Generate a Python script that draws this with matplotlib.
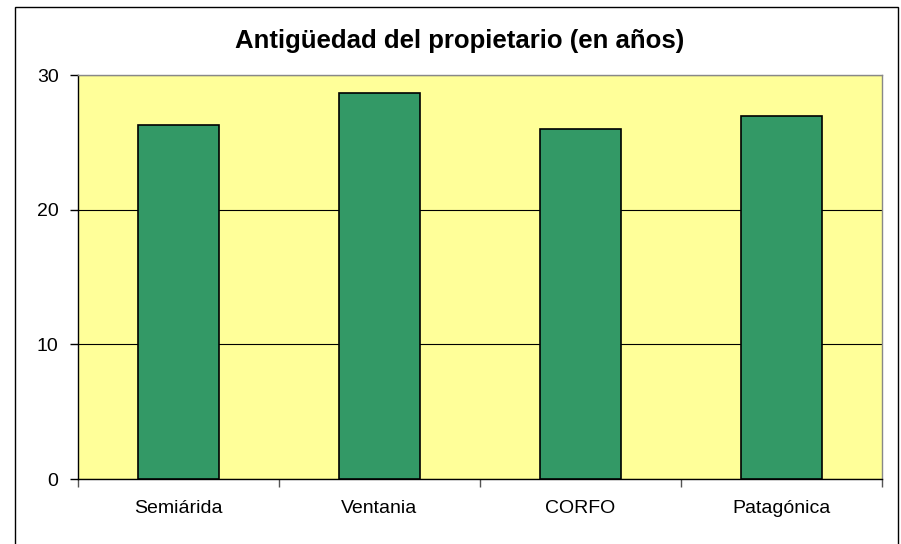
import matplotlib.pyplot as plt
import numpy as np
from matplotlib.patches import Rectangle

# Data
regions = ["Semiárida", "Ventania", "CORFO", "Patagónica"]
antiguedad = [26.3, 28.7, 26.0, 27.0]
y_ticks = [0, 10, 20, 30]

plt.rcParams['font.family'] = ['Liberation Sans', 'DejaVu Sans']

fig = plt.figure(figsize=(9.01, 5.44), dpi=100)
W, H = 901, 544

# Outer chart border (bottom edge runs off the image)
fig.patches.append(Rectangle((15 / W, -0.05), (898 - 15) / W, (537 / 544) + 0.05,
                             transform=fig.transFigure, fill=False,
                             edgecolor='black', linewidth=1.0, clip_on=False))

ax = fig.add_axes([78 / W, 1 - 479 / H, 804 / W, 403.7 / H])
ax.set_facecolor('#FFFF99')

x = np.arange(len(regions))
ax.set_axisbelow(True)
ax.yaxis.grid(True, color='black', linewidth=0.8)
ax.bar(x, antiguedad, width=0.405, color='#339966', edgecolor='black', linewidth=1.2, zorder=3)

ax.set_xlim(-0.5, len(regions) - 0.5)
ax.set_ylim(0, 30)
ax.set_yticks(y_ticks)
ax.set_yticklabels([str(v) for v in y_ticks], fontsize=14)
ax.tick_params(axis='y', length=6, width=1, pad=8, colors='black')

# Labels at category centres, tick marks at category boundaries
ax.set_xticks(x)
ax.set_xticklabels(regions, fontsize=14)
ax.tick_params(axis='x', which='major', length=0, pad=15)
ax.set_xticks(np.arange(len(regions) + 1) - 0.5, minor=True)
ax.tick_params(axis='x', which='minor', length=6, width=1, color='#555555')

for side in ['left', 'bottom']:
    ax.spines[side].set_color('black')
    ax.spines[side].set_linewidth(1.0)
for side in ['top', 'right']:
    ax.spines[side].set_color('#888888')
    ax.spines[side].set_linewidth(1.0)

fig.text(459.5 / W, 1 - 48.3 / H, "Antigüedad del propietario (en años)",
         ha='center', va='baseline', fontsize=18.5, fontweight='bold')

fig.savefig('out.png', dpi=100)
